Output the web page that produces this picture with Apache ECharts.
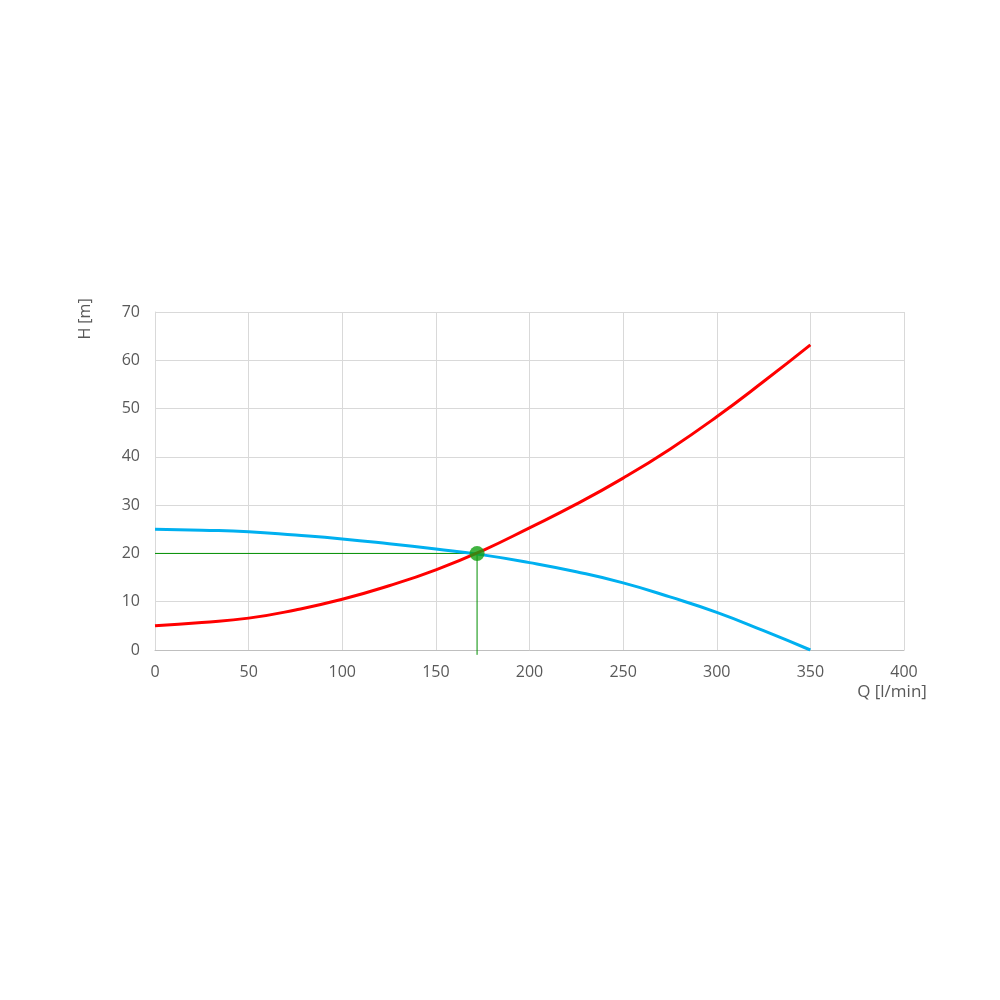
<!DOCTYPE html>
<html>
<head>
<meta charset="utf-8">
<script src="https://cdn.jsdelivr.net/npm/echarts@6/dist/echarts.min.js"></script>
<style>html,body{margin:0;padding:0;background:#fff}#c{width:1000px;height:1000px}</style>
</head>
<body>
<div id="c"></div>
<script>
var flowQ = [0, 25, 50, 75, 100, 125, 150, 175, 200, 225, 250, 275, 300, 325, 350];
var pumpH = [25.0, 24.8, 24.5, 23.8, 23.0, 22.0, 20.9, 19.7, 18.1, 16.2, 13.9, 11.0, 7.8, 4.0, 0];
var systemH = [5.0, 5.7, 6.6, 8.3, 10.5, 13.3, 16.6, 20.6, 25.3, 30.2, 35.6, 41.6, 48.3, 55.6, 63.2];
var opPoint = [172, 20];
var xTicks = [0, 50, 100, 150, 200, 250, 300, 350, 400];
var yTicks = [0, 10, 20, 30, 40, 50, 60, 70];
var xName = 'Q [l/min]';
var yName = 'H [m]';

function pairs(xs, ys) { return xs.map(function (x, i) { return [x, ys[i]]; }); }

var chart = echarts.init(document.getElementById('c'));
var txt = { color: '#595959', fontSize: 16, fontFamily: 'Open Sans' };
chart.setOption({
  animation: false,
  grid: { left: 155, right: 96, top: 312, bottom: 350 },
  xAxis: {
    type: 'value', min: 0, max: 400, interval: 50,
    axisLine: { show: true, lineStyle: { color: '#bfbfbf', width: 1 } },
    axisTick: { show: false },
    axisLabel: Object.assign({ margin: 14 }, txt),
    splitLine: { show: true, lineStyle: { color: '#d9d9d9', width: 1 } }
  },
  yAxis: {
    type: 'value', min: 0, max: 70, interval: 10,
    axisLine: { show: true, lineStyle: { color: '#d9d9d9', width: 1 } },
    axisTick: { show: false },
    axisLabel: Object.assign({ margin: 15 }, txt),
    splitLine: { show: true, lineStyle: { color: '#d9d9d9', width: 1 } }
  },
  graphic: [
    { type: 'text', rotation: Math.PI / 2, position: [85, 319],
      style: { text: yName, textAlign: 'center', textVerticalAlign: 'middle', fill: '#595959', font: '16px "Open Sans"' } },
    { type: 'text', position: [892, 692],
      style: { text: xName, textAlign: 'center', textVerticalAlign: 'middle', fill: '#595959', font: '17px "Open Sans"' } }
  ],
  series: [
    { type: 'line', data: pairs(flowQ, pumpH), smooth: true, showSymbol: false,
      lineStyle: { color: '#00b0f0', width: 3 }, z: 3 },
    { type: 'line', data: pairs(flowQ, systemH), smooth: true, showSymbol: false,
      lineStyle: { color: '#ff0000', width: 3 }, z: 4 },
    { type: 'line', data: [[0, opPoint[1]], [opPoint[0], opPoint[1]], [opPoint[0], -1]],
      showSymbol: false, clip: false, lineStyle: { color: '#008f00', width: 1 }, z: 2 },
    { type: 'scatter', data: [opPoint], symbol: 'circle', symbolSize: 15,
      itemStyle: { color: '#12a012' }, z: 5 }
  ]
});
</script>
</body>
</html>
